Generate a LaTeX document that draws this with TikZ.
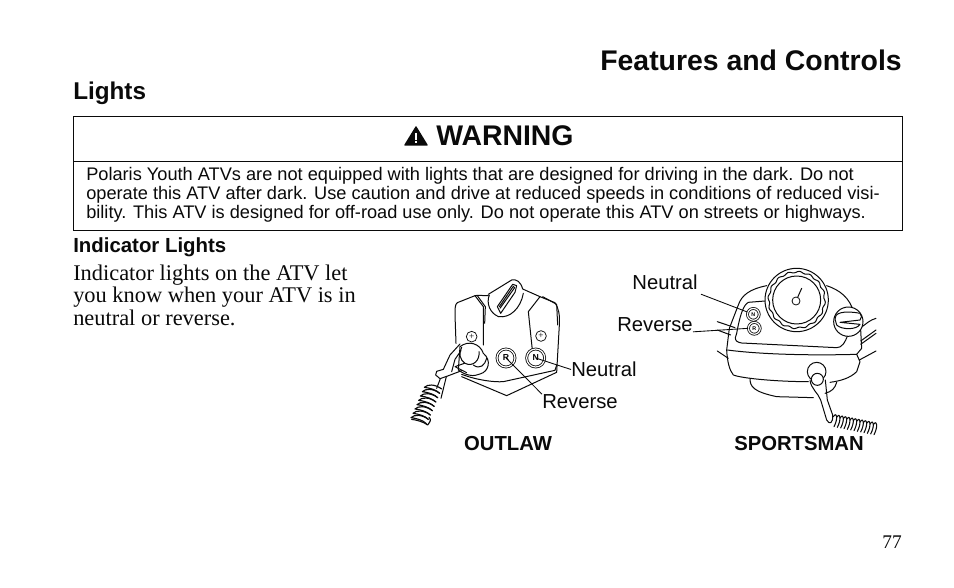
\documentclass[tikz,border=0pt]{standalone}
\usepackage{fontspec}
\setmainfont{Liberation Serif}
\setsansfont{Liberation Sans}
\usetikzlibrary{positioning}
\definecolor{inkblack}{RGB}{10, 10, 10}
\tikzset{
  headtext/.style={font=\sffamily\bfseries\fontsize{21.3}{24}\selectfont, anchor=west, inner sep=0pt, text=inkblack},
  subhead/.style={font=\sffamily\bfseries\fontsize{18.2}{20}\selectfont, anchor=west, inner sep=0pt, text=inkblack},
  minorhead/.style={font=\sffamily\bfseries\fontsize{15.3}{17}\selectfont, anchor=west, inner sep=0pt, text=inkblack},
  warnline/.style={font=\sffamily\fontsize{13.65}{15}\selectfont, anchor=west, inner sep=0pt, text=inkblack},
  bodyline/.style={font=\fontsize{16.8}{18}\selectfont, anchor=west, inner sep=0pt, text=inkblack},
  partlabel/.style={font=\sffamily\fontsize{15.2}{17}\selectfont, inner sep=0pt, text=inkblack},
  modellabel/.style={font=\sffamily\bfseries\fontsize{15.2}{17}\selectfont, inner sep=0pt, text=inkblack},
  sketch/.style={draw=inkblack, line width=0.75pt, line join=round, line cap=round},
  lamp/.style={circle, draw=inkblack, line width=0.6pt, double=white, double distance=0.9pt, inner sep=0pt, font=\sffamily\bfseries\fontsize{#1}{#1}\selectfont},
  leader/.style={draw=inkblack, line width=0.65pt},
}
\begin{document}
\begin{tikzpicture}[x=0.75pt, y=-0.75pt]
  \useasboundingbox (0,0) rectangle (954,588);
  \fill[white] (0,0) rectangle (954,588);
  % page headings
  \node[headtext, anchor=east] (title) at (902,60) {Features and Controls};
  \node[subhead] (lights) at (73,93.5) {Lights};
  % warning box
  \draw[draw=inkblack, line width=0.7pt] (73.5,116.5) rectangle (902.5,230.5);
  \draw[draw=inkblack, line width=0.7pt] (73.5,161.5) -- (902.5,161.5);
  \fill[inkblack, line join=round, draw=inkblack, line width=1pt] (416,127) -- (427,145) -- (405,145) -- cycle;
  \draw[white, line width=1.5pt] (416,133) -- (416,140) (416,141.5) -- (416,143.5);
  \node[headtext] (warning) at (436,136) {WARNING};
  \node[warnline] (warnone) at (86,176) {Polaris Youth ATVs are not equipped with lights that are designed for driving in the dark. Do not};
  \node[warnline] (warntwo) at (86,195) {operate this ATV after dark. Use caution and drive at reduced speeds in conditions of reduced visi-};
  \node[warnline] (warnthree) at (86,214) {bility. This ATV is designed for off-road use only. Do not operate this ATV on streets or highways.};
  % body text
  \node[minorhead] (indicator) at (73,247) {Indicator Lights};
  \node[bodyline] (bodyone) at (73,275.5) {Indicator lights on the ATV let};
  \node[bodyline] (bodytwo) at (73,297) {you know when your ATV is in};
  \node[bodyline] (bodythree) at (73,318) {neutral or reverse.};
  % outlaw console
  \begin{scope}[shift={(400,265)}, x=0.25pt, y=-0.25pt]
    \draw[sketch] (265,92) .. controls (245,92) and (235,90) .. (225,92) -- (172,113) .. controls (165,118) and (165,130) .. (165,150) -- (168,235);
    \draw[sketch] (225,92) -- (250,125) -- (250,240);
    \draw[sketch] (232,92) -- (256,125) -- (254,175);
    \draw[sketch] (265,88) -- (335,45) .. controls (350,42) and (362,50) .. (368,72) -- (420,95) -- (465,113) .. controls (476,130) and (480,150) .. (478,180) -- (470,322) -- (320,392) -- (185,335);
    \draw[sketch] (420,95) -- (385,140) -- (397,255);
    \draw[sketch] (428,95) -- (470,118) -- (473,180);
    \draw[sketch] (185,328) .. controls (230,345) and (280,352) .. (310,350) -- (465,316) -- (470,300);
    \draw[sketch] (296,155) .. controls (270,145) and (258,115) .. (268,90);
    \draw[sketch] (296,155) .. controls (330,160) and (362,130) .. (370,85);
    \draw[sketch] (292,125) -- (338,58) -- (350,62) -- (345,82) -- (302,145) -- cycle;
    \draw[sketch] (298,125) -- (340,64) -- (344,68) -- (300,130);
    \node[circle, draw=inkblack, line width=0.55pt, minimum size=8pt, inner sep=0pt, font=\fontsize{7}{7}\selectfont] (plusleft) at (215,215) {+};
    \node[circle, draw=inkblack, line width=0.55pt, minimum size=8pt, inner sep=0pt, font=\fontsize{7}{7}\selectfont] (plusright) at (423,213) {+};
    \node[lamp=6.5, minimum size=13.5pt] (outlawr) at (318,279) {R};
    \node[lamp=6.5, minimum size=13.5pt] (outlawn) at (407,279) {N};
  \end{scope}
  % cable plug and coiled cord
  \begin{scope}[shift={(405,330)}, x=0.25pt, y=-0.25pt]
    \draw[sketch, fill=white] (165,50) .. controls (190,30) and (225,40) .. (235,70) .. controls (260,90) and (252,125) .. (225,132) .. controls (205,142) and (180,135) .. (160,120) -- cycle;
    \draw[sketch] (170,52) .. controls (160,70) and (165,90) .. (180,100) .. controls (205,112) and (225,90) .. (222,65);
    \draw[sketch] (205,105) .. controls (225,120) and (240,105) .. (245,85);
    \draw[sketch] (178,100) -- (150,110) -- (185,128);
    \draw[sketch] (165,42) -- (135,75) -- (115,118) -- (95,124) -- (92,135) -- (105,146) -- (128,138) -- (170,122);
    \draw[sketch] (168,62) -- (150,88) -- (140,125);
    \draw[sketch] (106,146) -- (95,175);
    \draw[sketch] (124,140) -- (108,205);
    \foreach \yy/\xx in {170/60, 183/54, 196/48, 209/43, 222/38, 235/32, 248/26, 261/20} {
      \draw[sketch, line width=0.85pt] (\xx+50,\yy+7) .. controls (\xx+30,\yy-8) and (\xx+8,\yy-8) .. (\xx-2,\yy+2) .. controls (\xx+15,\yy+4) and (\xx+35,\yy+10) .. (\xx+44,\yy+20);
    }
    \draw[sketch, line width=0.85pt] (20,268) .. controls (35,270) and (55,275) .. (68,285) .. controls (75,275) and (80,270) .. (72,262);
  \end{scope}
  \node[partlabel, anchor=west] (neutralleft) at (571,369.5) {Neutral};
  \node[partlabel, anchor=west] (reverseleft) at (542,401.5) {Reverse};
  \draw[leader] (neutralleft.west) -- (outlawn.center);
  \draw[leader] (reverseleft.north west) -- (outlawr.center);
  % sportsman console
  \begin{scope}[shift={(610,265)}, x=0.25pt, y=-0.25pt]
    \draw[sketch] (470,62) .. controls (420,72) and (395,90) .. (385,120) -- (358,190) -- (350,255) .. controls (352,290) and (358,315) .. (370,330) .. controls (395,340) and (500,350) .. (595,350);
    \draw[sketch] (650,62) .. controls (690,75) and (720,100) .. (730,140);
    \draw[sketch] (380,205) -- (376,218) .. controls (376,228) and (382,232) .. (395,234) -- (680,248) .. controls (695,248) and (705,235) .. (715,205);
    \draw[sketch] (380,205) .. controls (390,150) and (400,120) .. (415,112) -- (465,108);
    \draw[sketch] (352,255) .. controls (450,268) and (600,272) .. (740,268) -- (755,250) -- (752,195);
    \draw[sketch] (740,268) -- (750,290) -- (740,320) .. controls (720,340) and (690,348) .. (660,352);
    \draw[sketch] (420,340) .. controls (420,365) and (430,380) .. (500,395) -- (610,398);
    \draw[sketch] (680,352) .. controls (675,370) and (665,380) .. (645,385);
    % wires behind the console
    \draw[sketch] (322,170) -- (375,188);
    \draw[sketch] (322,195) -- (362,210);
    \draw[sketch] (322,258) -- (355,280);
    \draw[sketch] (750,190) .. controls (770,175) and (780,165) .. (798,160);
    \draw[sketch] (752,228) -- (798,195);
    \draw[sketch] (752,238) -- (798,205);
    \draw[sketch] (748,285) -- (798,258);
    % gauge
    \draw[sketch, fill=white] (560,105) circle (95);
    \begin{scope}[shift={(560,105)}]
      \draw[sketch] plot[domain=0:356, samples=90, smooth cycle] (\x:{84+2.5*sin(16*\x)});
    \end{scope}
    \draw[sketch] (560,105) circle (72);
    \node[circle, draw=inkblack, line width=0.6pt, minimum size=6pt, inner sep=0pt] (needlehub) at (558,108) {};
    \coordinate (needletip) at (575,70);
    \draw[sketch] (needlehub) -- (needletip);
    % ignition key
    \draw[sketch, fill=white] (715,170) circle (44);
    \draw[sketch, fill=white] (675,162) .. controls (672,145) and (700,135) .. (750,145) .. controls (757,150) and (755,160) .. (750,165) -- (690,172) -- (750,178) .. controls (740,195) and (695,195) .. (680,180) -- cycle;
    \node[lamp=4, minimum size=8.8pt] (sportn) at (430,148) {N};
    \node[lamp=4, minimum size=8.8pt] (sportr) at (433,190) {R};
  \end{scope}
  % sportsman cable and coil
  \begin{scope}[shift={(790,300)}, x=0.25pt, y=-0.25pt]
    \draw[sketch, fill=white] (80,215) circle (28);
    \draw[sketch, fill=white] (82,238) circle (18);
    \draw[sketch] (60,240) .. controls (62,265) and (85,280) .. (92,300) -- (110,360) .. controls (118,375) and (130,370) .. (128,345) -- (112,300) -- (106,240);
    \foreach \xx in {130,140,...,250} {
      \draw[sketch, line width=0.8pt] (\xx,{350+0.2*(\xx-130)}) .. controls (\xx+12,{332+0.2*(\xx-130)}) and (\xx+14,{358+0.2*(\xx-130)}) .. (\xx+2,{380+0.2*(\xx-130)});
    }
  \end{scope}
  \node[partlabel, anchor=east] (neutralright) at (698,282.5) {Neutral};
  \node[partlabel, anchor=east] (reverseright) at (693,324.5) {Reverse};
  \draw[leader] (neutralright.south east) ++(3,4) coordinate (neutralstart) (neutralstart) -- (sportn);
  \draw[leader] (reverseright.south east) -- (sportr.west);
  \node[modellabel] (outlaw) at (508,444) {OUTLAW};
  \node[modellabel] (sportsman) at (799,444) {SPORTSMAN};
  % page number
  \node[font=\fontsize{14.5}{16}\selectfont, anchor=east, inner sep=0pt, text=inkblack] (pagenum) at (902,542) {77};
\end{tikzpicture}
\end{document}
